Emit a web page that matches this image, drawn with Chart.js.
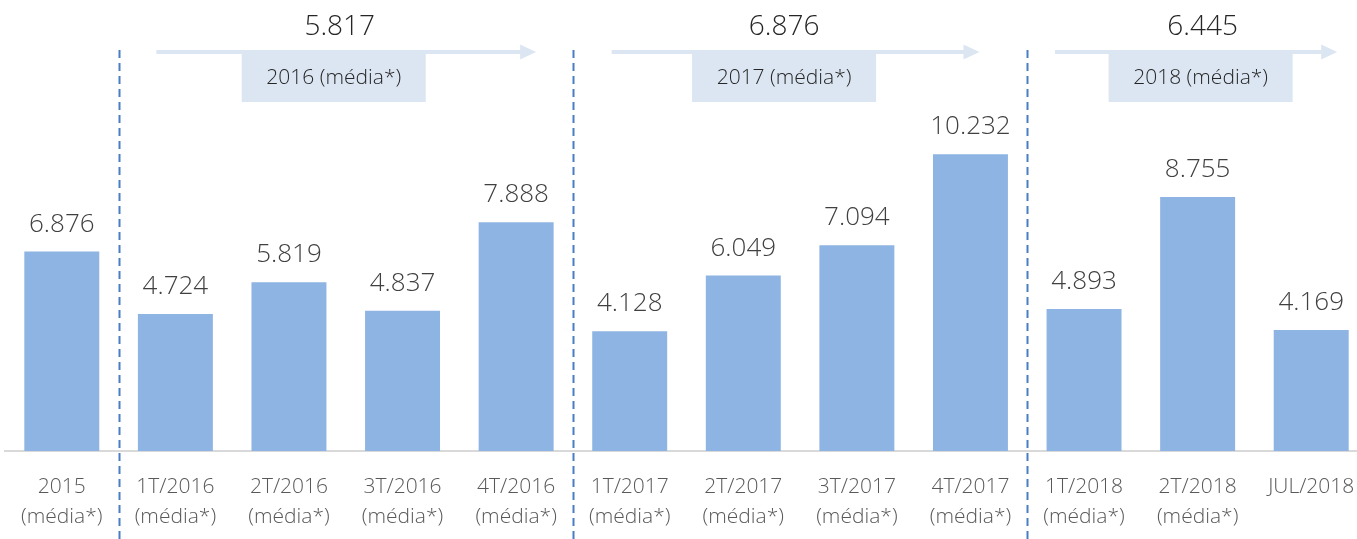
<!DOCTYPE html>
<html>
<head>
<meta charset="utf-8">
<script src="https://cdn.jsdelivr.net/npm/chart.js@4"></script>
<style>
  body { margin: 0; background: #fff; overflow: hidden; }
</style>
</head>
<body>
<canvas id="grafico" width="1372" height="554"></canvas>
<script>
// dados
const categorias = [
    ['2015', '(média*)'],
    ['1T/2016', '(média*)'], ['2T/2016', '(média*)'], ['3T/2016', '(média*)'], ['4T/2016', '(média*)'],
    ['1T/2017', '(média*)'], ['2T/2017', '(média*)'], ['3T/2017', '(média*)'], ['4T/2017', '(média*)'],
    ['1T/2018', '(média*)'], ['2T/2018', '(média*)'], ['JUL/2018']
];
const valores = [6876, 4724, 5819, 4837, 7888, 4128, 6049, 7094, 10232, 4893, 8755, 4169];

// médias anuais
const grupos = ['2016 (média*)', '2017 (média*)', '2018 (média*)'];
const mediasGrupos = [5817, 6876, 6445];
const inicioGrupo = [1, 5, 9];
const fimGrupo = [4, 8, 11];

const fmt = v => v.toLocaleString('pt-BR');
const fonte = '"Open Sans", "Segoe UI", sans-serif';

// ajustes finos de posição das setas/caixas (px)
const ajusteSeta = [[-19, 20], [-18, 9], [-29, 26]];
const ajusteCaixa = [-12, -16, 3];
const ajusteNumero = [-6, -16, 5];

const rotulosPlugin = {
    id: 'rotulos',
    afterDatasetsDraw(chart) {
        const ctx = chart.ctx;
        const meta = chart.getDatasetMeta(0);
        ctx.save();
        ctx.font = '300 26px ' + fonte;
        ctx.fillStyle = '#404040';
        ctx.textAlign = 'center';
        ctx.textBaseline = 'alphabetic';
        meta.data.forEach((bar, i) => {
            ctx.fillText(fmt(valores[i]), bar.x, bar.y - 20);
        });
        ctx.restore();
    },
    afterDraw(chart) {
        const ctx = chart.ctx;
        const x = chart.scales.x;
        const passo = x.getPixelForValue(1) - x.getPixelForValue(0);
        ctx.save();

        // linhas tracejadas entre os anos
        ctx.strokeStyle = '#4A7EC4';
        ctx.lineWidth = 2;
        ctx.setLineDash([8, 5]);
        inicioGrupo.forEach(i => {
            const px = Math.round(x.getPixelForValue(i) - passo / 2) + 0.5;
            ctx.beginPath();
            ctx.moveTo(px, 50);
            ctx.lineTo(px, chart.height);
            ctx.stroke();
        });
        ctx.setLineDash([]);

        grupos.forEach((g, k) => {
            const x0 = x.getPixelForValue(inicioGrupo[k]) + ajusteSeta[k][0];
            const x1 = x.getPixelForValue(fimGrupo[k]) + ajusteSeta[k][1];
            const meio = (x.getPixelForValue(inicioGrupo[k]) + x.getPixelForValue(fimGrupo[k])) / 2;

            // seta
            ctx.fillStyle = '#DCE6F2';
            ctx.fillRect(x0, 50, x1 - x0 - 14, 4);
            ctx.beginPath();
            ctx.moveTo(x1 - 16, 44.5);
            ctx.lineTo(x1, 52);
            ctx.lineTo(x1 - 16, 59.5);
            ctx.closePath();
            ctx.fill();

            // caixa
            const cx = meio + ajusteCaixa[k];
            ctx.fillRect(cx - 92, 54, 184, 48);
            ctx.fillStyle = '#262626';
            ctx.font = '300 21px ' + fonte;
            ctx.textAlign = 'center';
            ctx.textBaseline = 'middle';
            ctx.fillText(g, cx, 78);

            // média
            ctx.font = '300 28px ' + fonte;
            ctx.textBaseline = 'alphabetic';
            ctx.fillText(fmt(mediasGrupos[k]), meio + ajusteNumero[k], 35);
        });
        ctx.restore();
    }
};

new Chart(document.getElementById('grafico').getContext('2d'), {
    type: 'bar',
    data: {
        labels: categorias,
        datasets: [{
            data: valores,
            backgroundColor: '#8EB4E3',
            barPercentage: 0.66,
            categoryPercentage: 1
        }]
    },
    options: {
        responsive: false,
        animation: false,
        layout: { padding: { top: 103, left: 5, right: 4, bottom: 9 } },
        plugins: {
            legend: { display: false },
            tooltip: { enabled: false }
        },
        scales: {
            y: { display: false, min: 0, max: 12000 },
            x: {
                grid: { display: false },
                border: { display: true, color: '#D9D9D9', width: 2 },
                ticks: {
                    color: '#595959',
                    padding: 13,
                    maxRotation: 0,
                    autoSkip: false,
                    font: { family: fonte, size: 21, weight: '300', lineHeight: 1.43 }
                }
            }
        }
    },
    plugins: [rotulosPlugin]
});
</script>
</body>
</html>
